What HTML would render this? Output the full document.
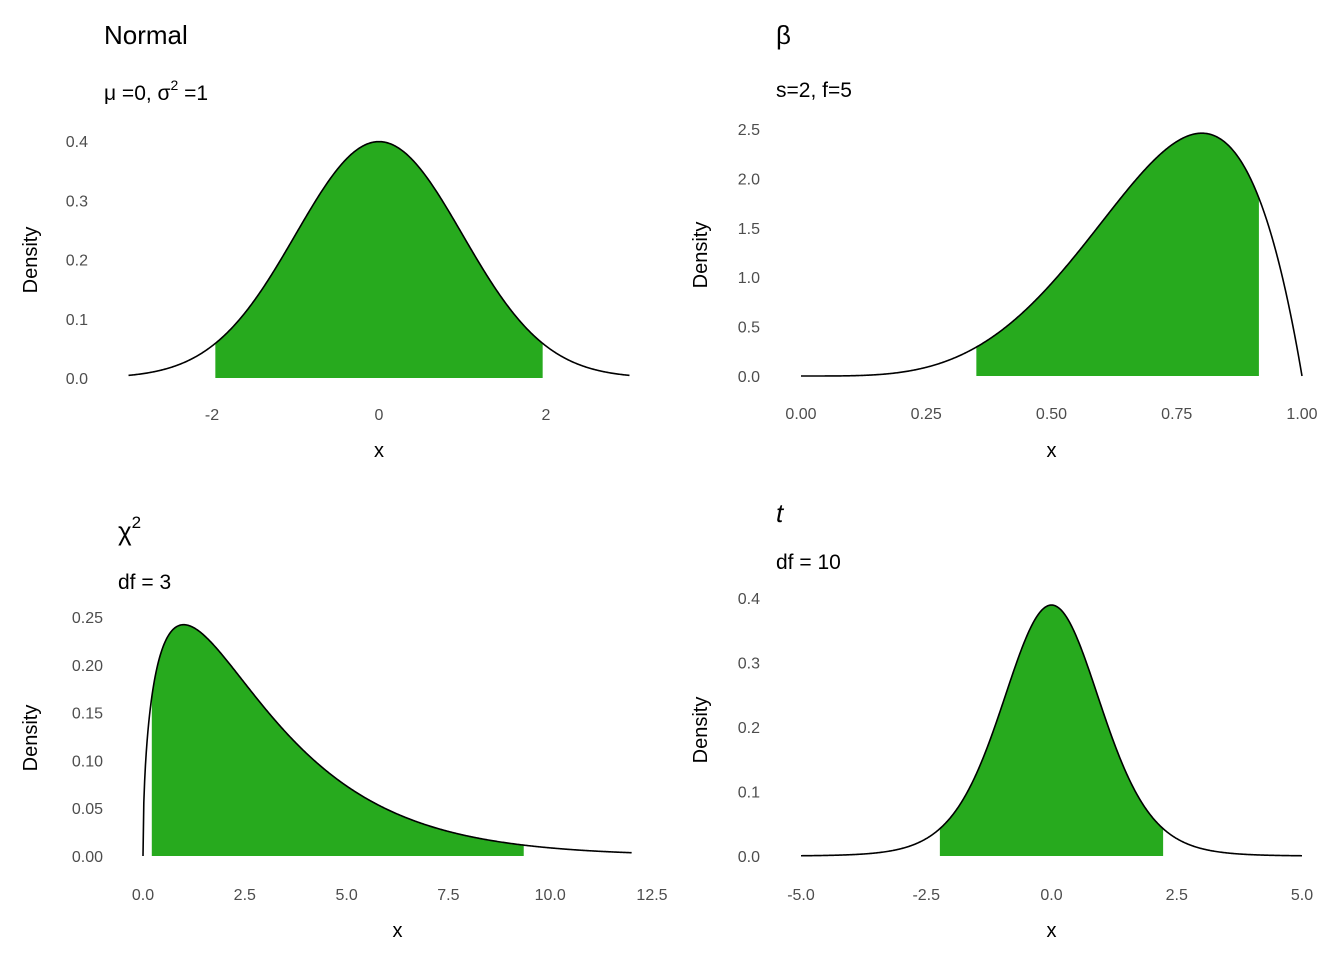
<!DOCTYPE html>
<html><head><meta charset="utf-8"><style>
html,body{margin:0;padding:0;background:#fff}
svg{display:block;font-family:"Liberation Sans",sans-serif}
</style></head><body>
<svg id="c" width="1344" height="960"></svg>
<script>
// Distribution parameters and shaded ranges (data)
const normalParams = [0, 1];          // mean, sd
const normalRange = [-3, 3];
const normalFill = [-1.96, 1.96];
const normalXTicks = [-2, 0, 2];
const normalYTicks = [0.0, 0.1, 0.2, 0.3, 0.4];

const betaParams = [5, 2];            // shape1, shape2
const betaRange = [0, 1];
const betaFill = [0.35, 0.914];
const betaXTicks = [0.00, 0.25, 0.50, 0.75, 1.00];
const betaYTicks = [0.0, 0.5, 1.0, 1.5, 2.0, 2.5];

const chiParams = [3];                // df
const chiRange = [0, 12];
const chiFill = [0.216, 9.35];
const chiXTicks = [0.0, 2.5, 5.0, 7.5, 10.0, 12.5];
const chiYTicks = [0.00, 0.05, 0.10, 0.15, 0.20, 0.25];

const tParams = [10];                 // df
const tRange = [-5, 5];
const tFill = [-2.228, 2.228];
const tXTicks = [-5.0, -2.5, 0.0, 2.5, 5.0];
const tYTicks = [0.0, 0.1, 0.2, 0.3, 0.4];

function lgamma(z){const g=[76.18009172947146,-86.50532032941677,24.01409824083091,-1.231739572450155,0.1208650973866179e-2,-0.5395239384953e-5];let x=z,y=z,t=x+5.5;t-=(x+0.5)*Math.log(t);let s=1.000000000190015;for(let j=0;j<6;j++)s+=g[j]/++y;return -t+Math.log(2.5066282746310005*s/x);}
const dens = {
 normal:x=>Math.exp(-0.5*((x-normalParams[0])/normalParams[1])**2)/(normalParams[1]*Math.sqrt(2*Math.PI)),
 beta:x=>{const a=betaParams[0],b=betaParams[1];if(x<=0||x>=1)return 0;return Math.exp((a-1)*Math.log(x)+(b-1)*Math.log(1-x)+lgamma(a+b)-lgamma(a)-lgamma(b));},
 chi:x=>{const k=chiParams[0];if(x<=0)return 0;return Math.exp((k/2-1)*Math.log(x)-x/2-(k/2)*Math.log(2)-lgamma(k/2));},
 t:x=>{const v=tParams[0];return Math.exp(lgamma((v+1)/2)-lgamma(v/2))/Math.sqrt(v*Math.PI)*Math.pow(1+x*x/v,-(v+1)/2);}
};
const NS="http://www.w3.org/2000/svg";
const svg=document.getElementById('c');
function el(tag,attrs,parent){const e=document.createElementNS(NS,tag);for(const k in attrs)e.setAttribute(k,attrs[k]);(parent||svg).appendChild(e);return e;}

const panels=[
 {id:'normal',f:dens.normal,range:normalRange,fill:normalFill,xt:normalXTicks,yt:normalYTicks,xd:[-2,2],xp:[212,546],yd:[0,0.4],yp:[378,141],ylabX:88,xlabY:420,xtitleY:457,dx:30,dy:260,xdec:0,ydec:1},
 {id:'beta',f:dens.beta,range:betaRange,fill:betaFill,xt:betaXTicks,yt:betaYTicks,xd:[0,1],xp:[801,1302],yd:[0,2.5],yp:[376,129],ylabX:760,xlabY:419,xtitleY:457,dx:700,dy:255,xdec:2,ydec:1},
 {id:'chi',f:dens.chi,range:chiRange,fill:chiFill,xt:chiXTicks,yt:chiYTicks,xd:[0,12.5],xp:[143,652],yd:[0,0.25],yp:[856,617],ylabX:103,xlabY:900,xtitleY:937,dx:30,dy:738,xdec:1,ydec:2},
 {id:'t',f:dens.t,range:tRange,fill:tFill,xt:tXTicks,yt:tYTicks,xd:[-5,5],xp:[801,1302],yd:[0,0.4],yp:[856,598],ylabX:760,xlabY:900,xtitleY:937,dx:700,dy:730,xdec:1,ydec:1}
];
panels.forEach(p=>{
 const g=el('g',{});
 
 
 const X=v=>p.xp[0]+(v-p.xd[0])*(p.xp[1]-p.xp[0])/(p.xd[1]-p.xd[0]);
 const Y=v=>p.yp[0]+(v-p.yd[0])*(p.yp[1]-p.yd[0]===0?0:(p.yp[1]-p.yp[0])/(p.yd[1]-p.yd[0]));
 // fill area
 let d=`M${X(p.fill[0])},${Y(0)}`;const n=300;
 for(let i=0;i<=n;i++){const x=p.fill[0]+(p.fill[1]-p.fill[0])*i/n;d+=`L${X(x).toFixed(2)},${Y(p.f(x)).toFixed(2)}`;}
 d+=`L${X(p.fill[1])},${Y(0)}Z`;
 const a=el('path',{d:d,fill:'#27aa1e',stroke:'none'},g);
 
 
 let l='';const m=600;
 for(let i=0;i<=m;i++){const x=p.range[0]+(p.range[1]-p.range[0])*i/m;l+=(i?'L':'M')+X(x).toFixed(2)+','+Y(p.f(x)).toFixed(2);}
 const c=el('path',{d:l,fill:'none',stroke:'#000','stroke-width':1.6},g);
 
 
 p.xt.forEach(v=>{const t=el('text',{x:X(v),y:p.xlabY,'text-anchor':'middle','font-size':16,fill:'#4d4d4d'},g);t.textContent=v.toFixed(p.xdec);
  
  });
 p.yt.forEach(v=>{const t=el('text',{x:p.ylabX,y:Y(v)+6,'text-anchor':'end','font-size':16,fill:'#4d4d4d'},g);t.textContent=v.toFixed(p.ydec);
  
  });
 const xt=el('text',{x:(p.xp[0]+X(p.xd[1]))/2,y:p.xtitleY,'text-anchor':'middle','font-size':20},g);xt.textContent='x';
 
 
 const yt=el('text',{x:0,y:0,'text-anchor':'middle','font-size':20,transform:`translate(${p.dx+7},${p.dy}) rotate(-90)`},g);yt.textContent='Density';
 
 
});
</script>
<svg width="1344" height="960" style="position:absolute;left:0;top:0;font-family:'Liberation Sans',sans-serif">
 <text x="104" y="44" font-size="26">Normal</text>
 <text x="104" y="100" font-size="21">μ =0,  σ<tspan dy="-10" font-size="14">2</tspan><tspan dy="10"> =1</tspan></text>
 <text x="776" y="44" font-size="26">β</text>
 <text x="776" y="97" font-size="21">s=2, f=5</text>
 <text x="118" y="540" font-size="26">χ<tspan dy="-12" font-size="17">2</tspan></text>
 <text x="118" y="589" font-size="21">df = 3</text>
 <text x="776" y="522" font-size="26" font-style="italic">t</text>
 <text x="776" y="569" font-size="21">df = 10</text>
</svg>
</body></html>
